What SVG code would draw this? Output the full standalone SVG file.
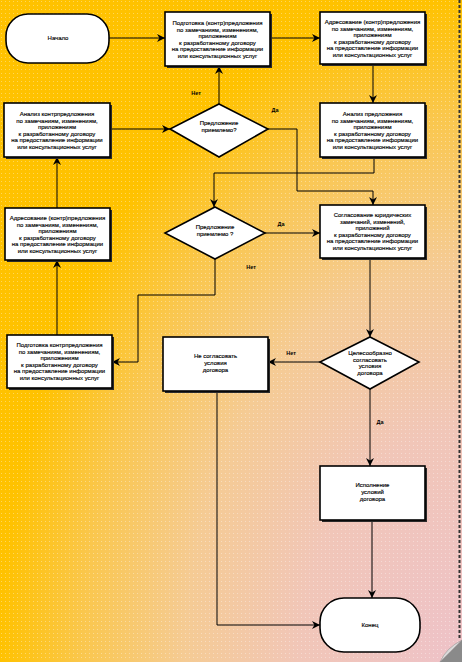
<svg xmlns="http://www.w3.org/2000/svg" width="462" height="662" viewBox="0 0 462 662">
<defs>
<radialGradient id="bg" cx="1" cy="1" r="1" fx="1" fy="1">
<stop offset="0" stop-color="#EEC2C8"/>
<stop offset="0.35" stop-color="#F1C6B8"/>
<stop offset="0.6" stop-color="#F5CB94"/>
<stop offset="0.82" stop-color="#FAC74E"/>
<stop offset="1" stop-color="#FFC200"/>
</radialGradient>
<pattern id="dots" width="4" height="4" patternUnits="userSpaceOnUse">
<rect x="1" y="1" width="1" height="1" fill="#ffffff" opacity="0.35"/>
</pattern>
<marker id="arr" viewBox="0 0 10 10" refX="10" refY="5" markerWidth="8" markerHeight="8" markerUnits="userSpaceOnUse" orient="auto">
<path d="M0,0 L10,5 L0,10 L3,5 z" fill="#000"/>
</marker>
</defs>
<style>
.box{fill:#fff;stroke:#000;stroke-width:1.6}
.sh{fill:#2a2a2a}
.dia{fill:#fff;stroke:#000;stroke-width:1.6}
.t{font-family:"Liberation Sans",Arial,sans-serif;font-size:6px;fill:#000;text-anchor:middle;stroke:#000;stroke-width:0.15}
.lbl{font-family:"Liberation Sans",Arial,sans-serif;font-size:5.5px;font-weight:bold;fill:#000;text-anchor:middle}
.c{fill:none;stroke:#000;stroke-width:1}
</style>
<rect x="0" y="0" width="462" height="662" fill="url(#bg)"/>
<rect x="0" y="0" width="458" height="658" fill="url(#dots)"/>
<line x1="459.5" y1="0" x2="459.5" y2="640" stroke="#333" stroke-width="2" stroke-dasharray="3,2"/>
<path d="M440,662 L462,640 L462,662 Z" fill="#8a8a8a"/>
<path d="M440,662 Q446,648 462,640 Q450,652 440,662 Z" fill="#d9d9d9" stroke="#888" stroke-width="0.5"/>

<g id="connectors">
<line class="c" x1="109" y1="38" x2="165" y2="38" marker-end="url(#arr)"/>
<line class="c" x1="270" y1="38" x2="320" y2="38" marker-end="url(#arr)"/>
<line class="c" x1="373" y1="64" x2="373" y2="103" marker-end="url(#arr)"/>
<polyline class="c" points="374,157 374,173 214,173 214,207" marker-end="url(#arr)"/>
<polyline class="c" points="268,129 297,129 297,191 373,191 373,205" marker-end="url(#arr)"/>
<line class="c" x1="219" y1="104" x2="219" y2="66" marker-end="url(#arr)"/>
<line class="c" x1="110" y1="129" x2="170" y2="129" marker-end="url(#arr)"/>
<line class="c" x1="57" y1="208" x2="57" y2="157" marker-end="url(#arr)"/>
<line class="c" x1="57" y1="335" x2="57" y2="260" marker-end="url(#arr)"/>
<line class="c" x1="265" y1="233" x2="320" y2="233" marker-end="url(#arr)"/>
<polyline class="c" points="215,259 215,295 138,295 138,362 112,362" marker-end="url(#arr)"/>
<line class="c" x1="370" y1="258" x2="370" y2="337" marker-end="url(#arr)"/>
<line class="c" x1="320" y1="362" x2="268" y2="362" marker-end="url(#arr)"/>
<line class="c" x1="370" y1="389" x2="370" y2="466" marker-end="url(#arr)"/>
<line class="c" x1="372" y1="520" x2="372" y2="598" marker-end="url(#arr)"/>
<polyline class="c" points="217,391 217,625 320,625" marker-end="url(#arr)"/>
<text class="lbl" x="196" y="95">Нет</text>
<text class="lbl" x="275" y="112">Да</text>
<text class="lbl" x="281" y="226">Да</text>
<text class="lbl" x="251" y="269">Нет</text>
<text class="lbl" x="291" y="355">Нет</text>
<text class="lbl" x="380" y="424">Да</text>
</g>

<g id="start">
<rect x="6" y="14" width="103" height="49" rx="22" class="box" stroke-width="2"/>
<text class="t" x="58" y="40">Начало</text>
</g>

<g id="prep1">
<rect class="sh" x="167" y="14" width="105" height="54"/>
<rect class="box" x="165" y="12" width="105" height="54"/>
<text class="t" x="217.5" y="25">Подготовка (контр)предложения</text>
<text class="t" x="217.5" y="31.5">по замечаниям, изменениям,</text>
<text class="t" x="217.5" y="38">приложениям</text>
<text class="t" x="217.5" y="44.5">к разработанному договору</text>
<text class="t" x="217.5" y="51">на предоставление информации</text>
<text class="t" x="217.5" y="57.5">или консультационных услуг</text>
</g>

<g id="addr1">
<rect class="sh" x="322" y="14" width="105" height="52"/>
<rect class="box" x="320" y="12" width="105" height="52"/>
<text class="t" x="372.5" y="24">Адресование (контр)предложения</text>
<text class="t" x="372.5" y="30.5">по замечаниям, изменениям,</text>
<text class="t" x="372.5" y="37">приложениям</text>
<text class="t" x="372.5" y="43.5">к разработанному договору</text>
<text class="t" x="372.5" y="50">на предоставление информации</text>
<text class="t" x="372.5" y="56.5">или консультационных услуг</text>
</g>

<g id="analysis1">
<rect class="sh" x="322" y="105" width="105" height="54"/>
<rect class="box" x="320" y="103" width="105" height="54"/>
<text class="t" x="372.5" y="116">Анализ предложения</text>
<text class="t" x="372.5" y="122.5">по замечаниям, изменениям,</text>
<text class="t" x="372.5" y="129">приложениям</text>
<text class="t" x="372.5" y="135.5">к разработанному договору</text>
<text class="t" x="372.5" y="142">на предоставление информации</text>
<text class="t" x="372.5" y="148.5">или консультационных услуг</text>
</g>

<g id="analysis2">
<rect class="sh" x="6" y="105" width="106" height="54"/>
<rect class="box" x="4" y="103" width="106" height="54"/>
<text class="t" x="57" y="116">Анализ контрпредложения</text>
<text class="t" x="57" y="122.5">по замечаниям, изменениям,</text>
<text class="t" x="57" y="129">приложениям</text>
<text class="t" x="57" y="135.5">к разработанному договору</text>
<text class="t" x="57" y="142">на предоставление информации</text>
<text class="t" x="57" y="148.5">или консультационных услуг</text>
</g>

<g id="decision1">
<polygon class="dia" points="219,104 268,129 219,157 170,129"/>
<text class="t" x="219" y="125">Предложение</text>
<text class="t" x="219" y="132">приемлемо?</text>
</g>

<g id="decision2">
<polygon class="dia" points="215,207 265,233 215,259 165,233"/>
<text class="t" x="215" y="229">Предложение</text>
<text class="t" x="215" y="236">приемлемо ?</text>
</g>

<g id="agree">
<rect class="sh" x="322" y="207" width="105" height="53"/>
<rect class="box" x="320" y="205" width="105" height="53"/>
<text class="t" x="372.5" y="217">Согласование юридических</text>
<text class="t" x="372.5" y="223.5">замечаний, изменений,</text>
<text class="t" x="372.5" y="230">приложений</text>
<text class="t" x="372.5" y="236.5">к разработанному договору</text>
<text class="t" x="372.5" y="243">на предоставление информации</text>
<text class="t" x="372.5" y="249.5">или консультационных услуг</text>
</g>

<g id="addr2">
<rect class="sh" x="7" y="210" width="105" height="52"/>
<rect class="box" x="5" y="208" width="105" height="52"/>
<text class="t" x="57.5" y="220">Адресование (контр)предложения</text>
<text class="t" x="57.5" y="226.5">по замечаниям, изменениям,</text>
<text class="t" x="57.5" y="233">приложениям</text>
<text class="t" x="57.5" y="239.5">к разработанному договору</text>
<text class="t" x="57.5" y="246">на предоставление информации</text>
<text class="t" x="57.5" y="252.5">или консультационных услуг</text>
</g>

<g id="prep2">
<rect class="sh" x="9" y="337" width="105" height="53"/>
<rect class="box" x="7" y="335" width="105" height="53"/>
<text class="t" x="59.5" y="347">Подготовка контрпредложения</text>
<text class="t" x="59.5" y="353.5">по замечаниям, изменениям,</text>
<text class="t" x="59.5" y="360">приложениям</text>
<text class="t" x="59.5" y="366.5">к разработанному договору</text>
<text class="t" x="59.5" y="373">на предоставление информации</text>
<text class="t" x="59.5" y="379.5">или консультационных услуг</text>
</g>

<g id="decision3">
<polygon class="dia" points="370,337 419,362 370,389 320,362"/>
<text class="t" x="370" y="355">Целесообразно</text>
<text class="t" x="370" y="361.5">согласовать</text>
<text class="t" x="370" y="368">условия</text>
<text class="t" x="370" y="374.5">договора</text>
</g>

<g id="reject">
<rect class="sh" x="165" y="339" width="105" height="54"/>
<rect class="box" x="163" y="337" width="105" height="54"/>
<text class="t" x="215.5" y="358">Не согласовать</text>
<text class="t" x="215.5" y="365">условия</text>
<text class="t" x="215.5" y="372">договора</text>
</g>

<g id="execute">
<rect class="sh" x="322" y="468" width="105" height="54"/>
<rect class="box" x="320" y="466" width="105" height="54"/>
<text class="t" x="372.5" y="487">Исполнение</text>
<text class="t" x="372.5" y="494">условий</text>
<text class="t" x="372.5" y="501">договора</text>
</g>

<g id="end">
<rect x="320" y="598" width="100" height="54" rx="24" class="box" stroke-width="2"/>
<text class="t" x="370" y="627">Конец</text>
</g>
</svg>
